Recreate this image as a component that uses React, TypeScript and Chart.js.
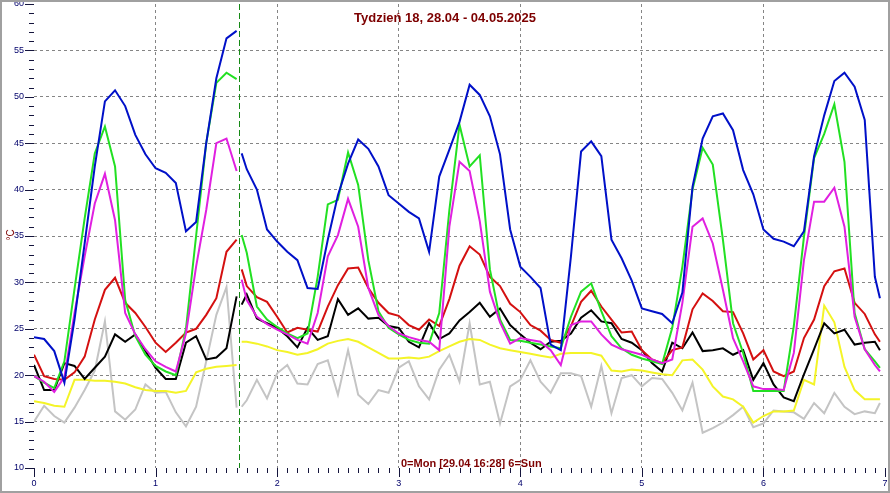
import React, { useEffect, useRef } from "react";
import { Chart, registerables } from "chart.js";

Chart.register(...registerables);

// time axis in hours since Monday 00:00 (one point every 2 h, a gap at the data break)
const HOURS = [
  0, 2, 4, 6, 8, 10, 12, 14, 16, 18, 20, 22, 24, 26, 28, 30, 32, 34, 36, 38, 40,
  40.5,
  41,
  42, 44, 46, 48, 50, 52, 54, 56, 58, 60, 62, 64,
  66, 68, 70, 72, 74, 76, 78, 80, 82, 84, 86, 88,
  90, 92, 94, 96, 98, 100, 102, 104, 106, 108, 110, 112,
  114, 116, 118, 120, 122, 124, 126, 128, 130, 132, 134, 136,
  138, 140, 142, 144, 146, 148, 150, 152, 154, 156, 158, 160,
  162, 164, 166,
  167,
];

const BLUE = [
  24.1, 23.9, 22.6, 19.2, 26.0, 34.2, 42.5, 49.5, 50.7, 49.0, 45.9, 43.8, 42.3, 41.8, 40.7, 35.5, 36.5, 45.0, 52.0, 56.3, 57.1,
  null,
  43.9,
  42.2, 40.0, 35.7, 34.4, 33.3, 32.4, 29.4, 29.3, 34.6, 39.4, 42.8, 45.4,
  44.4, 42.5, 39.4, 38.5, 37.6, 36.9, 33.3, 41.4, 44.3, 47.3, 51.3, 50.2,
  47.9, 43.8, 35.7, 31.7, 30.6, 29.4, 23.3, 22.7, 32.8, 44.1, 45.2, 43.6,
  34.6, 32.6, 30.2, 27.2, 26.9, 26.6, 25.6, 28.9, 40.3, 45.5, 47.9, 48.2,
  46.4, 42.1, 39.5, 35.7, 34.7, 34.4, 33.9, 35.5, 43.6, 48.0, 51.7, 52.6,
  51.1, 47.5, 30.6,
  28.3,
];

const GREEN = [
  19.9, 19.2, 18.6, 21.5, 29.3, 36.9, 43.9, 46.8, 42.5, 28.1, 24.2, 22.2, 21.0, 20.4, 20.0, 25.0, 35.0, 45.0, 51.5, 52.6, 51.9,
  null,
  35.1,
  33.2, 27.4, 26.0, 25.2, 24.5, 24.0, 24.5, 30.6, 38.4, 38.9, 44.0, 40.5,
  32.4, 26.9, 25.1, 24.4, 23.8, 23.5, 23.4, 26.7, 37.8, 47.0, 42.5, 43.7,
  31.4, 26.0, 23.8, 23.7, 23.5, 23.3, 23.1, 22.9, 26.3, 29.0, 29.9, 26.9,
  24.2, 22.9, 22.2, 21.8, 21.5, 21.2, 25.1, 31.7, 40.0, 44.5, 42.7, 34.6,
  25.6, 22.4, 18.3, 18.3, 18.3, 18.3, 25.3, 34.9, 43.4, 46.0, 49.2, 43.0,
  26.7, 22.8, 21.5,
  20.8,
];

const MAGENTA = [
  19.9, 19.3, 18.2, 19.8, 26.7, 32.8, 38.5, 41.7, 36.7, 26.7, 24.4, 22.8, 21.5, 20.9, 20.4, 24.5, 31.7, 37.8, 45.0, 45.5, 42.0,
  null,
  30.3,
  28.1, 26.3, 25.5, 24.9, 24.4, 23.8, 23.4, 26.7, 32.8, 35.1, 39.0, 36.0,
  29.4, 26.5, 25.3, 24.5, 24.1, 23.8, 23.6, 22.7, 36.0, 43.0, 42.0, 36.6,
  29.0, 25.7, 23.4, 24.0, 23.8, 23.6, 22.7, 21.1, 25.4, 25.8, 25.8, 24.4,
  23.3, 22.8, 22.5, 22.2, 21.7, 21.3, 21.7, 27.8, 36.0, 36.9, 34.2, 29.2,
  24.0, 21.5, 18.8, 18.5, 18.5, 18.4, 22.4, 32.4, 38.7, 38.7, 40.2, 36.0,
  26.3, 22.8, 21.1,
  20.4,
];

const RED = [
  22.2, 19.9, 19.6, 19.5, 20.3, 22.0, 26.0, 29.2, 30.5, 27.8, 26.7, 25.2, 23.5, 22.5, 23.5, 24.6, 25.0, 26.5, 28.3, 33.3, 34.6,
  null,
  31.4,
  29.6, 28.4, 27.9, 26.3, 24.6, 25.1, 24.9, 24.7, 27.4, 29.7, 31.5, 31.6,
  29.4, 27.8, 26.7, 26.4, 25.4, 24.9, 26.0, 25.3, 28.2, 31.8, 33.9, 33.0,
  30.6, 29.6, 27.7, 26.8, 25.4, 24.8, 23.8, 23.5, 25.3, 27.9, 29.1, 27.4,
  26.0, 24.6, 24.7, 22.7, 21.7, 21.3, 22.7, 23.0, 27.1, 28.8, 28.0, 26.9,
  26.8, 24.5, 21.7, 22.7, 20.4, 19.9, 20.4, 24.0, 26.0, 29.6, 31.2, 31.5,
  27.8, 26.6, 24.4,
  23.6,
];

const BLACK = [
  21.1, 18.4, 18.4, 21.3, 21.0, 19.6, 20.8, 22.0, 24.4, 23.6, 24.4, 22.6, 20.8, 19.6, 19.6, 23.5, 24.2, 21.7, 21.9, 22.9, 28.5,
  null,
  27.6,
  28.7, 26.1, 25.6, 25.1, 24.2, 23.0, 25.1, 23.8, 24.2, 28.2, 26.5, 27.2,
  26.1, 26.2, 25.3, 25.1, 23.6, 23.0, 25.6, 23.9, 24.5, 25.9, 26.8, 27.8,
  26.3, 27.2, 25.4, 24.4, 23.5, 22.8, 23.6, 23.7, 24.5, 26.2, 27.0, 25.8,
  25.6, 23.9, 23.5, 22.7, 21.3, 20.4, 23.5, 22.9, 24.6, 22.6, 22.7, 22.9,
  22.2, 22.7, 19.5, 21.3, 19.0, 17.6, 17.2, 20.1, 22.8, 25.6, 24.5, 24.9,
  23.3, 23.5, 23.6,
  22.7,
];

const YELLOW = [
  17.2, 17.0, 16.7, 16.6, 19.5, 19.5, 19.4, 19.4, 19.3, 19.1, 18.7, 18.4, 18.3, 18.3, 18.1, 18.3, 20.3, 20.7, 20.9, 21.0, 21.1,
  null,
  23.6,
  23.6, 23.4, 23.1, 22.7, 22.5, 22.2, 22.4, 22.8, 23.4, 23.7, 23.9, 23.6,
  23.0, 22.4, 21.8, 21.8, 21.9, 21.8, 22.0, 22.6, 23.1, 23.6, 23.9, 23.8,
  23.3, 22.9, 22.7, 22.5, 22.3, 22.1, 21.9, 22.3, 22.4, 22.4, 22.4, 22.1,
  20.5, 20.4, 20.6, 20.5, 20.3, 20.1, 20.0, 21.6, 21.7, 20.6, 18.8, 17.7,
  17.4, 16.6, 14.9, 15.6, 16.1, 16.1, 16.2, 19.5, 19.0, 27.5, 25.7, 20.9,
  18.4, 17.4, 17.4,
  17.4,
];

const GRAY = [
  15.0, 16.7, 15.6, 14.9, 16.5, 18.4, 20.5, 25.8, 16.1, 15.2, 16.3, 19.0, 18.1, 18.2, 16.0, 14.5, 16.6, 21.5, 26.5, 29.5, 16.5,
  null,
  16.6,
  17.3, 19.5, 17.5, 20.2, 21.1, 19.1, 19.0, 21.2, 21.6, 17.9, 22.7, 17.9,
  16.9, 18.4, 18.1, 20.8, 21.5, 18.8, 17.4, 20.6, 22.2, 19.3, 25.6, 19.0,
  19.3, 14.8, 18.8, 19.5, 21.6, 19.3, 18.1, 20.2, 20.2, 19.9, 16.6, 21.0,
  15.9, 19.7, 20.0, 18.8, 19.7, 19.6, 18.1, 16.2, 19.2, 13.8, 14.3, 14.9,
  15.7, 16.6, 14.4, 14.8, 16.2, 16.1, 16.0, 15.3, 17.0, 15.9, 18.1, 16.6,
  15.8, 16.1, 15.9,
  17.0,
];

// drawn top-most first
const SERIES_NAMES = ["blue", "magenta", "green", "red", "black", "yellow", "gray"];
const SERIES_VALUES = [BLUE, MAGENTA, GREEN, RED, BLACK, YELLOW, GRAY];
const SERIES_COLORS = ["#0010c8", "#e020e0", "#22e022", "#d41010", "#000000", "#f4f428", "#c4c4c4"];

const TITLE = "Tydzień 18, 28.04 - 04.05.2025";
const FOOTNOTE = "0=Mon [29.04 16:28] 6=Sun";
const UNIT = "°C";
const BREAK_HOUR = 40.47; // 29.04 16:28
const X_MIN = 0;
const X_MAX = 168;
const Y_MIN = 10;
const Y_MAX = 60;

const W = 890;
const H = 493;
const FONT = '"Liberation Sans", Arial, sans-serif';
const TEXT_RED = "#7d0000";
const TICK_TEXT = "#00006a";

const decorPlugin = {
  id: "decor",
  beforeDatasetsDraw(chart: any) {
    const { ctx, chartArea, scales } = chart;
    const x = scales.x;
    const mx = Math.round(x.getPixelForValue(BREAK_HOUR)) + 0.5;
    ctx.save();
    ctx.strokeStyle = "#168a16";
    ctx.lineWidth = 1;
    ctx.setLineDash([6, 3]);
    ctx.beginPath();
    ctx.moveTo(mx, chartArea.top);
    ctx.lineTo(mx, chartArea.bottom);
    ctx.stroke();
    ctx.restore();
  },
  afterDraw(chart: any) {
    const { ctx, chartArea, scales } = chart;
    const x = scales.x;
    const y = scales.y;
    ctx.save();

    // tick marks (major every day / 5 °C, minor every 2 h / 1 °C)
    ctx.fillStyle = "#14143c";
    const bottom = Math.round(chartArea.bottom);
    for (let h = X_MIN; h <= X_MAX; h += 2) {
      const px = Math.round(x.getPixelForValue(h));
      const len = h % 24 === 0 ? 9 : 5;
      ctx.fillRect(px, bottom, 1, len);
    }
    const left = Math.round(chartArea.left);
    for (let v = Y_MIN; v <= Y_MAX; v += 1) {
      const py = Math.round(y.getPixelForValue(v));
      const len = v % 5 === 0 ? 9 : 5;
      ctx.fillRect(left - len, py, len, 1);
    }

    // title
    ctx.fillStyle = TEXT_RED;
    ctx.font = `bold 13px ${FONT}`;
    ctx.textAlign = "center";
    ctx.textBaseline = "alphabetic";
    ctx.fillText(TITLE, W / 2, 22);

    // footnote
    ctx.font = `bold 11px ${FONT}`;
    ctx.textAlign = "left";
    ctx.fillText(FOOTNOTE, 401, 467);

    // unit
    ctx.save();
    ctx.translate(11, 235);
    ctx.rotate(-Math.PI / 2);
    ctx.font = `10px ${FONT}`;
    ctx.textAlign = "center";
    ctx.textBaseline = "middle";
    ctx.fillText(UNIT, 0, 0);
    ctx.restore();

    // frame
    ctx.strokeStyle = "#a0a0a0";
    ctx.lineWidth = 2;
    ctx.setLineDash([]);
    ctx.strokeRect(1, 1, W - 2, H - 2);
    ctx.restore();
  },
};

export default function App() {
  const ref = useRef<HTMLCanvasElement | null>(null);

  useEffect(() => {
    if (!ref.current) return;
    const datasets = SERIES_NAMES.map((name, i) => ({
      label: name,
      data: HOURS.map((h, j) => ({ x: h, y: SERIES_VALUES[i][j] })),
      borderColor: SERIES_COLORS[i],
      backgroundColor: SERIES_COLORS[i],
      borderWidth: 2,
      pointRadius: 0,
      tension: 0,
      fill: false,
      spanGaps: false,
    }));
    const edgeX = (c: any) =>
      c.tick && (c.tick.value === X_MIN || c.tick.value === X_MAX) ? "rgba(0,0,0,0)" : "#858585";
    const edgeY = (c: any) =>
      c.tick && (c.tick.value === Y_MIN || c.tick.value === Y_MAX) ? "rgba(0,0,0,0)" : "#858585";
    const chart = new Chart(ref.current, {
      type: "line",
      data: { datasets },
      options: {
        responsive: false,
        animation: false,
        events: [],
        layout: { padding: { left: 0, right: 5, top: 4, bottom: 0 } },
        plugins: {
          legend: { display: false },
          tooltip: { enabled: false },
          title: { display: false },
        },
        scales: {
          x: {
            type: "linear",
            min: X_MIN,
            max: X_MAX,
            afterFit(s: any) {
              s.height = 25;
              s.paddingLeft = 0;
              s.paddingRight = 0;
            },
            ticks: {
              stepSize: 24,
              padding: 10,
              autoSkip: false,
              maxRotation: 0,
              color: TICK_TEXT,
              font: { size: 9, family: FONT },
              callback: (v: any) => String(Number(v) / 24),
            },
            grid: { drawTicks: false, color: edgeX, lineWidth: 1 },
            border: { display: false, dash: [3, 3] },
          },
          y: {
            type: "linear",
            min: Y_MIN,
            max: Y_MAX,
            afterFit(s: any) {
              s.width = 34;
              s.paddingTop = 0;
              s.paddingBottom = 0;
            },
            ticks: {
              stepSize: 5,
              padding: 10,
              color: TICK_TEXT,
              font: { size: 9, family: FONT },
            },
            grid: { drawTicks: false, color: edgeY, lineWidth: 1 },
            border: { display: false, dash: [3, 3] },
          },
        },
      } as any,
      plugins: [decorPlugin],
    });
    return () => chart.destroy();
  }, []);

  return (
    <div style={{ position: "absolute", left: 0, top: 0, width: W, height: H, background: "#fff" }}>
      <canvas ref={ref} width={W} height={H} style={{ display: "block", width: W, height: H }} />
    </div>
  );
}
